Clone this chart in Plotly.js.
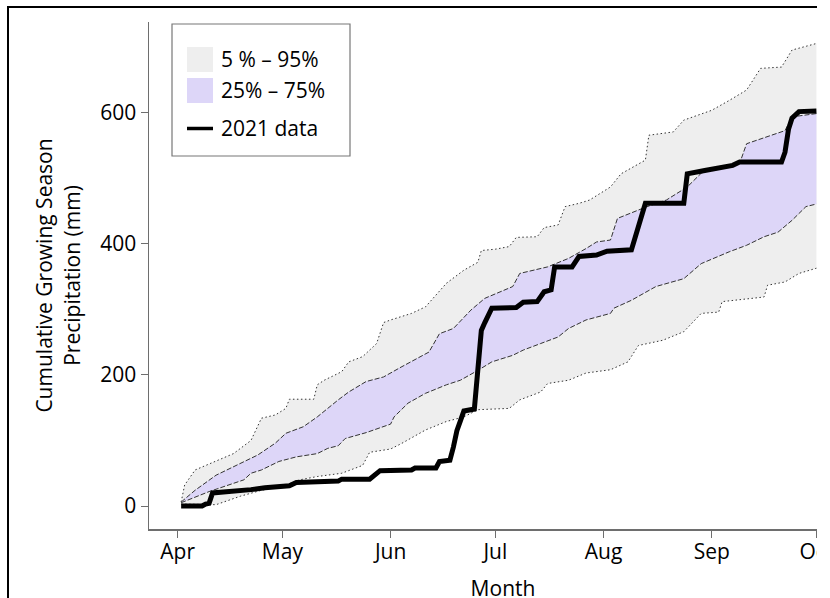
<!DOCTYPE html>
<html>
<head>
<meta charset="utf-8">
<script src="https://cdn.plot.ly/plotly-3.0.1.min.js"></script>
<style>
  html, body { margin: 0; padding: 0; background: #fff; }
  #view { position: absolute; left: 0; top: 0; width: 817px; height: 598px; overflow: hidden; }
  #chart { position: absolute; left: 0; top: 0; width: 880px; height: 640px; }
  #frame { position: absolute; left: 7px; top: 6px; width: 1000px; height: 1000px;
           border: 2px solid #000; box-sizing: border-box; pointer-events: none; }
</style>
</head>
<body>
<div id="view">
  <div id="chart"></div>
  <div id="frame"></div>
</div>
<script>
// Month ticks on the x axis
const monthTicks = ['2021-04-01', '2021-05-01', '2021-06-01', '2021-07-01', '2021-08-01', '2021-09-01', '2021-10-01'];
const monthLabels = ['Apr', 'May', 'Jun', 'Jul', 'Aug', 'Sep', 'Oct'];
const precipTicks = [0, 200, 400, 600];

// 5th percentile of cumulative growing-season precipitation (mm)
const p5Dates = ['2021-04-02', '2021-04-12', '2021-04-19', '2021-04-25',
  '2021-05-01', '2021-05-06', '2021-05-11', '2021-05-18', '2021-05-24', '2021-05-26',
  '2021-06-01', '2021-06-04', '2021-06-11', '2021-06-17', '2021-06-22', '2021-06-26',
  '2021-07-05', '2021-07-08', '2021-07-14', '2021-07-16', '2021-07-22', '2021-07-27',
  '2021-08-03', '2021-08-08', '2021-08-11', '2021-08-18', '2021-08-24', '2021-08-29',
  '2021-09-03', '2021-09-04', '2021-09-16', '2021-09-17', '2021-09-22', '2021-09-26',
  '2021-10-01'];
const p5Precip = [3, 2, 15, 24,
  30, 40, 45, 50, 62, 82,
  87, 95, 116, 129, 136, 147,
  149, 162, 174, 187, 192, 203,
  208, 220, 245, 253, 266, 294,
  296, 312, 319, 337, 342, 355,
  363];

// 95th percentile
const p95Dates = ['2021-04-02', '2021-04-03', '2021-04-06', '2021-04-12', '2021-04-17', '2021-04-22', '2021-04-24', '2021-04-25', '2021-04-29',
  '2021-05-02', '2021-05-03', '2021-05-10', '2021-05-11', '2021-05-13', '2021-05-18', '2021-05-20', '2021-05-24', '2021-05-28', '2021-05-30',
  '2021-06-01', '2021-06-07', '2021-06-11', '2021-06-17', '2021-06-22', '2021-06-26', '2021-06-27',
  '2021-07-01', '2021-07-05', '2021-07-07', '2021-07-13', '2021-07-15', '2021-07-19', '2021-07-21', '2021-07-25', '2021-07-28',
  '2021-08-03', '2021-08-06', '2021-08-13', '2021-08-14', '2021-08-21', '2021-08-24',
  '2021-09-01', '2021-09-06', '2021-09-11', '2021-09-15', '2021-09-21', '2021-09-24',
  '2021-10-01'];
const p95Precip = [6, 32, 55, 68, 80, 100, 121, 134, 139,
  149, 163, 163, 185, 192, 205, 220, 228, 248, 280,
  284, 294, 304, 340, 360, 372, 390,
  392, 396, 410, 411, 425, 429, 457, 462, 467,
  487, 507, 528, 566, 571, 589,
  604, 619, 635, 668, 670, 696,
  706];

// 25th percentile
const p25Dates = ['2021-04-02', '2021-04-10', '2021-04-20', '2021-04-22', '2021-04-25', '2021-04-30',
  '2021-05-05', '2021-05-11', '2021-05-14', '2021-05-17', '2021-05-19', '2021-05-25',
  '2021-06-01', '2021-06-02', '2021-06-06', '2021-06-11', '2021-06-17', '2021-06-21', '2021-06-26', '2021-06-30',
  '2021-07-06', '2021-07-09', '2021-07-14', '2021-07-19', '2021-07-22', '2021-07-27',
  '2021-08-03', '2021-08-04', '2021-08-09', '2021-08-16', '2021-08-24', '2021-08-29',
  '2021-09-06', '2021-09-11', '2021-09-16', '2021-09-20', '2021-09-24', '2021-09-28',
  '2021-10-01'];
const p25Precip = [5, 22, 40, 50, 55, 68,
  75, 80, 88, 92, 103, 112,
  125, 136, 157, 172, 185, 192, 207, 220,
  230, 238, 248, 258, 271, 284,
  294, 302, 314, 335, 347, 370,
  388, 398, 411, 418, 436, 457,
  461];

// 75th percentile
const p75Dates = ['2021-04-02', '2021-04-06', '2021-04-12', '2021-04-17', '2021-04-24', '2021-04-29',
  '2021-05-02', '2021-05-07', '2021-05-11', '2021-05-17', '2021-05-20', '2021-05-25', '2021-05-30',
  '2021-06-04', '2021-06-12', '2021-06-15', '2021-06-19', '2021-06-24', '2021-06-28',
  '2021-07-06', '2021-07-08', '2021-07-16', '2021-07-22', '2021-07-27', '2021-07-30',
  '2021-08-03', '2021-08-05', '2021-08-13', '2021-08-19', '2021-08-25', '2021-08-29',
  '2021-09-04', '2021-09-09', '2021-09-11', '2021-09-18', '2021-09-22', '2021-09-24',
  '2021-10-01'];
const p75Precip = [6, 24, 47, 60, 78, 96,
  111, 121, 136, 162, 174, 190, 197,
  212, 235, 263, 271, 299, 317,
  335, 355, 365, 378, 393, 403,
  406, 439, 456, 467, 487, 508,
  518, 523, 553, 566, 573, 594,
  599];

// Observed 2021 cumulative precipitation
const obsDates = ['2021-04-02', '2021-04-08', '2021-04-09', '2021-04-10', '2021-04-11', '2021-04-18', '2021-04-22', '2021-04-26',
  '2021-05-03', '2021-05-05', '2021-05-17', '2021-05-18', '2021-05-26', '2021-05-29',
  '2021-06-07', '2021-06-08', '2021-06-14', '2021-06-15', '2021-06-18', '2021-06-19', '2021-06-20', '2021-06-21', '2021-06-22',
  '2021-06-25', '2021-06-26', '2021-06-27', '2021-06-28', '2021-06-29', '2021-06-30',
  '2021-07-07', '2021-07-09', '2021-07-13', '2021-07-15', '2021-07-17', '2021-07-18', '2021-07-23', '2021-07-25', '2021-07-30',
  '2021-08-02', '2021-08-09', '2021-08-11', '2021-08-13', '2021-08-24', '2021-08-25', '2021-08-30',
  '2021-09-01', '2021-09-04', '2021-09-07', '2021-09-09', '2021-09-21', '2021-09-22', '2021-09-23', '2021-09-24', '2021-09-26',
  '2021-10-01'];
const obsPrecip = [0, 0, 3, 4, 20, 22, 25, 28,
  31, 36, 38, 41, 41, 54,
  55, 58, 58, 68, 70, 90, 115, 130, 145,
  148, 200, 268, 280, 290, 302,
  303, 311, 312, 327, 330, 365, 365, 381, 383,
  389, 391, 425, 462, 462, 507, 512,
  514, 516, 520, 525, 525, 540, 575, 592, 602,
  603];

const legendLabels = ['5 % \u2013 95%', '25% \u2013 75%', '2021 data'];

// ---- styling ----
const FONT = 'Open Sans, Noto Sans, sans-serif';
const GREY_FILL = '#eeeeee';
const PURPLE_FILL = '#ddd6f8';
const BAND_LINE = '#333333';
const AXIS_GREY = '#6e6e6e';

// plot-area geometry in pixels (used for the hand-placed legend box)
const W = 880, H = 640;
const M = { l: 149, r: 23, t: 22, b: 111 };
const plotW = W - M.l - M.r, plotH = H - M.t - M.b;
const px = x => (x - M.l) / plotW;
const py = y => (H - M.b - y) / plotH;

const dotted = { color: BAND_LINE, width: 1, dash: '1.5px,2.5px' };
const dashed = { color: BAND_LINE, width: 1, dash: '5px,2px' };

const traces = [
  { x: p5Dates, y: p5Precip, type: 'scatter', mode: 'lines', line: dotted, hoverinfo: 'skip' },
  { x: p95Dates, y: p95Precip, type: 'scatter', mode: 'lines', line: dotted,
    fill: 'tonexty', fillcolor: GREY_FILL, hoverinfo: 'skip' },
  { x: p25Dates, y: p25Precip, type: 'scatter', mode: 'lines', line: dashed, hoverinfo: 'skip' },
  { x: p75Dates, y: p75Precip, type: 'scatter', mode: 'lines', line: dashed,
    fill: 'tonexty', fillcolor: PURPLE_FILL, hoverinfo: 'skip' },
  { x: obsDates, y: obsPrecip, type: 'scatter', mode: 'lines',
    line: { color: '#000', width: 5 }, hoverinfo: 'skip' }
];

const legendShapes = [
  { type: 'rect', xref: 'paper', yref: 'paper', x0: px(172), x1: px(350), y0: py(156), y1: py(24),
    line: { color: '#777', width: 1.2 }, fillcolor: '#fff', layer: 'above' },
  { type: 'rect', xref: 'paper', yref: 'paper', x0: px(187), x1: px(213), y0: py(72), y1: py(47),
    line: { width: 0 }, fillcolor: GREY_FILL, layer: 'above' },
  { type: 'rect', xref: 'paper', yref: 'paper', x0: px(187), x1: px(213), y0: py(103), y1: py(78),
    line: { width: 0 }, fillcolor: PURPLE_FILL, layer: 'above' },
  { type: 'line', xref: 'paper', yref: 'paper', x0: px(187), x1: px(213), y0: py(128.5), y1: py(128.5),
    line: { color: '#000', width: 3.5 }, layer: 'above' }
];

const legendRows = [59, 90, 128];
const legendAnnotations = legendLabels.map((t, i) => ({
  xref: 'paper', yref: 'paper', x: px(219), y: py(legendRows[i]),
  xanchor: 'left', yanchor: 'middle', showarrow: false, text: t,
  font: { family: FONT, size: 21, color: '#000' }
}));

const layout = {
  width: W, height: H,
  margin: M,
  paper_bgcolor: '#fff', plot_bgcolor: '#fff',
  showlegend: false,
  font: { family: FONT, size: 21, color: '#000' },
  xaxis: {
    type: 'date',
    range: ['2021-03-23 19:00', '2021-10-12 15:00'],
    tickmode: 'array', tickvals: monthTicks, ticktext: monthLabels,
    ticks: 'outside', ticklen: 7, tickwidth: 1, tickcolor: AXIS_GREY,
    showline: true, linecolor: AXIS_GREY, linewidth: 1.5,
    showgrid: false, zeroline: false,
    ticklabelstandoff: -4,
    tickfont: { family: FONT, size: 21, color: '#000' },
    title: { text: 'Month', font: { family: FONT, size: 21, color: '#000' }, standoff: 17 },
    automargin: false
  },
  yaxis: {
    range: [-35.1, 738.8],
    tickmode: 'array', tickvals: precipTicks,
    ticks: 'outside', ticklen: 7, tickwidth: 1, tickcolor: AXIS_GREY,
    showline: true, linecolor: AXIS_GREY, linewidth: 1.5,
    showgrid: false, zeroline: false,
    tickfont: { family: FONT, size: 21, color: '#000' },
    title: { text: 'Cumulative Growing Season<br>Precipitation (mm)',
             font: { family: FONT, size: 21, color: '#000' }, standoff: 14 },
    automargin: false
  },
  shapes: legendShapes,
  annotations: legendAnnotations
};

Plotly.newPlot('chart', traces, layout, { displayModeBar: false, staticPlot: true });
</script>
</body>
</html>
